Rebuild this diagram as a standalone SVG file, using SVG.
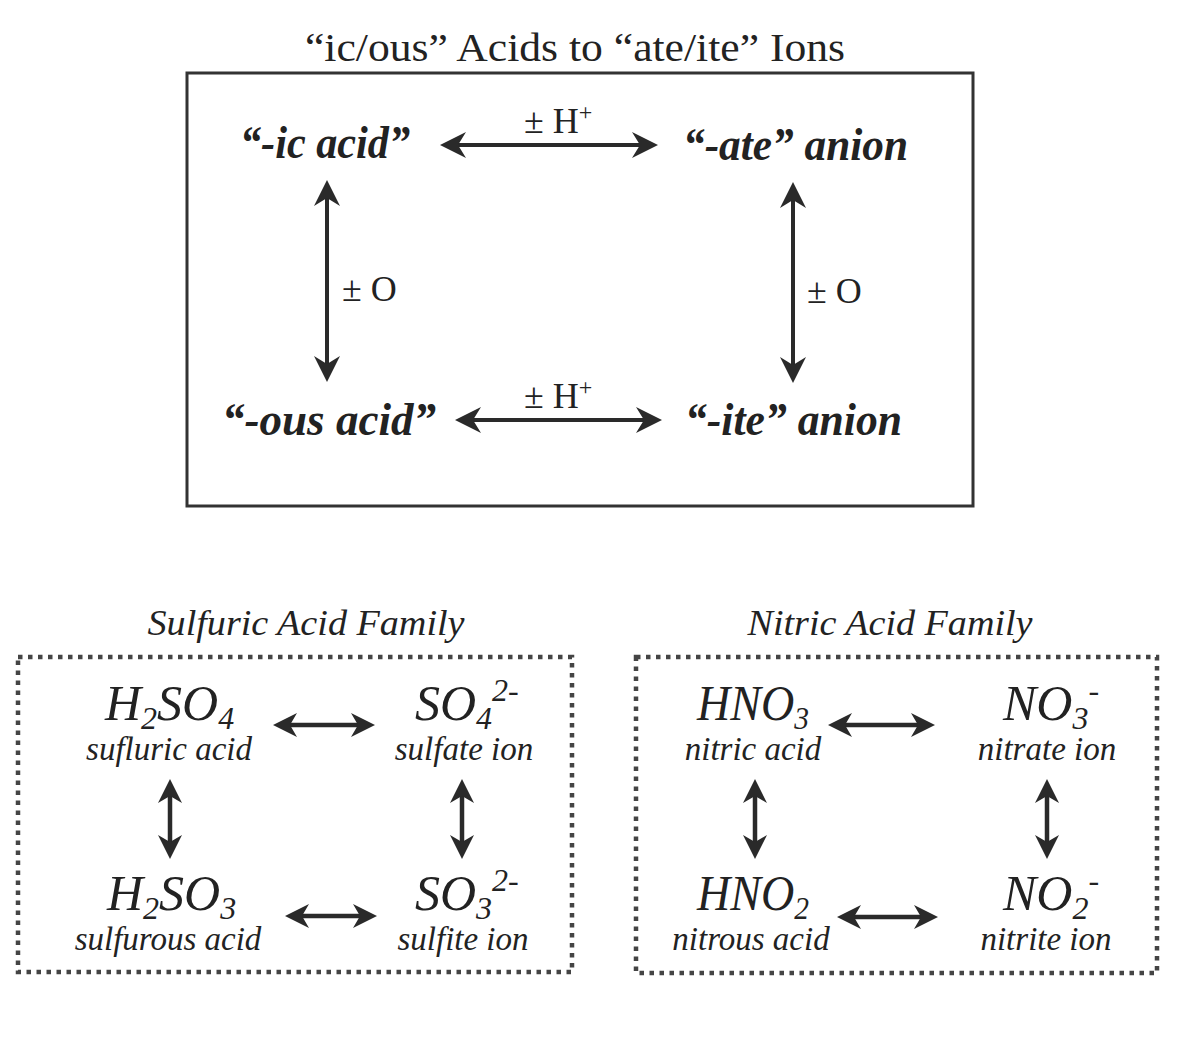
<svg xmlns="http://www.w3.org/2000/svg" width="1186" height="1052" viewBox="0 0 1186 1052">
<style>
.serif{font-family:"Liberation Serif","Times New Roman",serif;fill:#222}
.title{font-size:41px}
.big{font-size:46px;font-weight:bold;font-style:italic}
.lbl{font-size:36px}
.fam{font-size:36px;font-style:italic}
.formula{font-size:50px;font-style:italic}
.name{font-size:33px;font-style:italic}
.ln{stroke:#2a2a2a;stroke-width:4;fill:none}
.lns{stroke:#2a2a2a;stroke-width:4.5;fill:none}
.box{fill:none;stroke:#333;stroke-width:3}
.dot{fill:none;stroke:#444;stroke-width:4.5;stroke-dasharray:4.5 5.5}
</style>
<defs>
<marker id="ah" markerUnits="userSpaceOnUse" viewBox="-20 -15 35 30" refX="0" refY="0" markerWidth="35" markerHeight="30" orient="auto-start-reverse">
<path d="M10,0 L-16,-13 L-8,0 L-16,13 Z" fill="#2a2a2a"/>
</marker>
<marker id="ahs" markerUnits="userSpaceOnUse" viewBox="-20 -15 35 30" refX="0" refY="0" markerWidth="35" markerHeight="30" orient="auto-start-reverse">
<path d="M9,0 L-15,-12 L-8,0 L-15,12 Z" fill="#2a2a2a"/>
</marker>
</defs>
<rect width="1186" height="1052" fill="#fff"/>

<text class="serif title" x="575" y="61" text-anchor="middle" textLength="540" lengthAdjust="spacingAndGlyphs">“ic/ous” Acids to “ate/ite” Ions</text>
<rect id="main-box" class="box" x="187" y="73" width="786" height="433"/>

<g id="ic-acid"><text class="serif big" x="240" y="158" textLength="170" lengthAdjust="spacingAndGlyphs">“-ic acid”</text></g>
<g id="ate-anion"><text class="serif big" x="683" y="160" textLength="225" lengthAdjust="spacingAndGlyphs">“-ate” anion</text></g>
<g id="ous-acid"><text class="serif big" x="222" y="435" textLength="214" lengthAdjust="spacingAndGlyphs">“-ous acid”</text></g>
<g id="ite-anion"><text class="serif big" x="685" y="435" textLength="217" lengthAdjust="spacingAndGlyphs">“-ite” anion</text></g>

<g id="connectors">
<line class="ln" x1="450" y1="145" x2="648" y2="145" marker-start="url(#ah)" marker-end="url(#ah)"/>
<line class="ln" x1="465" y1="420" x2="652" y2="420" marker-start="url(#ah)" marker-end="url(#ah)"/>
<line class="ln" x1="327" y1="190" x2="327" y2="372" marker-start="url(#ah)" marker-end="url(#ah)"/>
<line class="ln" x1="793" y1="192" x2="793" y2="373" marker-start="url(#ah)" marker-end="url(#ah)"/>
<line class="lns" x1="282" y1="725" x2="366" y2="725" marker-start="url(#ahs)" marker-end="url(#ahs)"/>
<line class="lns" x1="294" y1="916" x2="368" y2="916" marker-start="url(#ahs)" marker-end="url(#ahs)"/>
<line class="lns" x1="170" y1="788" x2="170" y2="850" marker-start="url(#ahs)" marker-end="url(#ahs)"/>
<line class="lns" x1="462" y1="788" x2="462" y2="850" marker-start="url(#ahs)" marker-end="url(#ahs)"/>
<line class="lns" x1="837" y1="725" x2="926" y2="725" marker-start="url(#ahs)" marker-end="url(#ahs)"/>
<line class="lns" x1="846" y1="917" x2="929" y2="917" marker-start="url(#ahs)" marker-end="url(#ahs)"/>
<line class="lns" x1="755" y1="788" x2="755" y2="850" marker-start="url(#ahs)" marker-end="url(#ahs)"/>
<line class="lns" x1="1047" y1="788" x2="1047" y2="850" marker-start="url(#ahs)" marker-end="url(#ahs)"/>
</g>

<g id="labels">
<text class="serif lbl" x="524" y="133">± H<tspan font-size="24" dy="-13">+</tspan></text>
<text class="serif lbl" x="524" y="408">± H<tspan font-size="24" dy="-13">+</tspan></text>
<text class="serif lbl" x="342" y="301">± O</text>
<text class="serif lbl" x="807" y="303">± O</text>
</g>

<text class="serif fam" x="306" y="635" text-anchor="middle" textLength="317" lengthAdjust="spacingAndGlyphs">Sulfuric Acid Family</text>
<rect id="sulfur-box" class="dot" x="18" y="657" width="554" height="315"/>

<g id="h2so4">
<text class="serif formula" x="105" y="720">H<tspan font-size="32" dy="9">2</tspan><tspan dy="-9">SO</tspan><tspan font-size="32" dy="9">4</tspan></text>
<text class="serif name" x="169" y="760" text-anchor="middle">sufluric acid</text>
</g>
<g id="so4">
<text class="serif formula" x="415" y="720">SO<tspan font-size="32" dy="9">4</tspan><tspan font-size="32" dy="-28">2-</tspan></text>
<text class="serif name" x="464" y="760" text-anchor="middle">sulfate ion</text>
</g>
<g id="h2so3">
<text class="serif formula" x="107" y="910">H<tspan font-size="32" dy="9">2</tspan><tspan dy="-9">SO</tspan><tspan font-size="32" dy="9">3</tspan></text>
<text class="serif name" x="168" y="950" text-anchor="middle">sulfurous acid</text>
</g>
<g id="so3">
<text class="serif formula" x="415" y="910">SO<tspan font-size="32" dy="9">3</tspan><tspan font-size="32" dy="-28">2-</tspan></text>
<text class="serif name" x="463" y="950" text-anchor="middle">sulfite ion</text>
</g>

<text class="serif fam" x="890" y="635" text-anchor="middle" textLength="285" lengthAdjust="spacingAndGlyphs">Nitric Acid Family</text>
<rect id="nitric-box" class="dot" x="636" y="657" width="521" height="316"/>

<g id="hno3">
<text class="serif formula" x="697" y="720" textLength="112" lengthAdjust="spacingAndGlyphs">HNO<tspan font-size="32" dy="9">3</tspan></text>
<text class="serif name" x="753" y="760" text-anchor="middle">nitric acid</text>
</g>
<g id="no3">
<text class="serif formula" x="1003" y="720">NO<tspan font-size="32" dy="9">3</tspan><tspan font-size="32" dy="-28">-</tspan></text>
<text class="serif name" x="1047" y="760" text-anchor="middle">nitrate ion</text>
</g>
<g id="hno2">
<text class="serif formula" x="697" y="910" textLength="112" lengthAdjust="spacingAndGlyphs">HNO<tspan font-size="32" dy="9">2</tspan></text>
<text class="serif name" x="751" y="950" text-anchor="middle">nitrous acid</text>
</g>
<g id="no2">
<text class="serif formula" x="1003" y="910">NO<tspan font-size="32" dy="9">2</tspan><tspan font-size="32" dy="-28">-</tspan></text>
<text class="serif name" x="1046" y="950" text-anchor="middle">nitrite ion</text>
</g>
</svg>
